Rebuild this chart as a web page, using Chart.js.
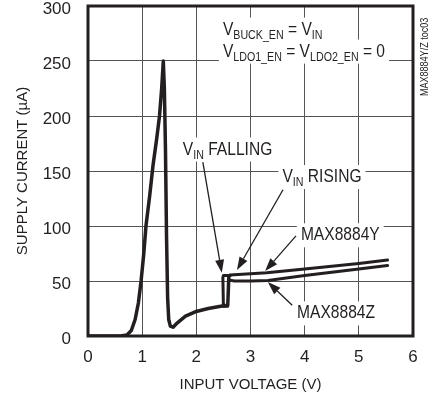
<!DOCTYPE html>
<html>
<head>
<meta charset="utf-8">
<script src="https://cdn.jsdelivr.net/npm/chart.js@4/dist/chart.umd.min.js"></script>
<style>
  html, body { margin: 0; padding: 0; background: #fff; }
  #wrap { width: 432px; height: 400px; }
</style>
</head>
<body>
<div id="wrap"><canvas id="c" width="432" height="400"></canvas></div>
<script>
const FONT = "'Liberation Sans', Arial, sans-serif";
const INK = '#231f20';
const NARROW = 0.82; // squeeze for the condensed face of the original

// axis ticks
const xTicks = [0, 1, 2, 3, 4, 5, 6];
const yTicks = [0, 50, 100, 150, 200, 250, 300];

// shared trace (VIN rising), input voltage (V) vs supply current (uA)
const mainV = [0, 0.6, 0.72, 0.8, 0.87, 0.93, 0.98, 1.03, 1.07, 1.14, 1.2, 1.27, 1.32, 1.36, 1.39, 1.41, 1.43, 1.45, 1.47, 1.49, 1.52, 1.57, 1.65, 1.8, 1.98, 2.22, 2.45, 2.58, 2.6, 2.62];
const mainI = [0, 0, 1, 5, 15, 30, 50, 75, 100, 128, 155, 180, 200, 225, 250, 225, 170, 90, 35, 15, 9, 8, 12, 18, 22, 25, 27, 28, 54, 55];

// VIN falling loop
const fallV = [2.62, 2.5, 2.49, 2.5, 2.58];
const fallI = [55, 55, 53, 27, 27];

// MAX8884Y
const yV = [2.62, 3.0, 3.3, 4.0, 4.5, 5.0, 5.53];
const yI = [55.5, 56.5, 57.5, 61, 63.5, 66, 69];

// MAX8884Z
const zV = [2.6, 2.7, 3.0, 3.32, 4.0, 4.5, 5.0, 5.53];
const zI = [51, 50, 50, 50.5, 55, 58, 61, 64];

// text labels: [x V, y uA, parts]
const labels = [
  { x: 2.49, y: 274, parts: [['V'], ['BUCK_EN', 1], [' = V'], ['IN', 1]] },
  { x: 2.49, y: 254, parts: [['V'], ['LDO1_EN', 1], [' = V'], ['LDO2_EN', 1], [' = 0']] },
  { x: 1.75, y: 165, parts: [['V'], ['IN', 1], [' FALLING']] },
  { x: 3.59, y: 140, parts: [['V'], ['IN', 1], [' RISING']] },
  { x: 3.93, y: 87, parts: [['MAX8884Y']] },
  { x: 3.86, y: 16, parts: [['MAX8884Z']] }
];

// arrows: from [V, uA] to [V, uA]
const arrows = [
  [[2.12, 158], [2.47, 57.5]],
  [[3.6, 133], [2.75, 60]],
  [[3.84, 91], [3.27, 59]],
  [[3.77, 28], [3.32, 49]]
];

const pts = (vs, is) => vs.map((v, i) => ({ x: v, y: is[i] }));

function drawParts(ctx, parts, x, y, measureOnly) {
  ctx.save();
  ctx.translate(x, y);
  ctx.scale(NARROW, 1);
  let cx = 0;
  parts.forEach(p => {
    ctx.font = (p[1] ? '13px ' : '19px ') + FONT;
    if (!measureOnly) ctx.fillText(p[0], cx, p[1] ? 4 : 0);
    cx += ctx.measureText(p[0]).width;
  });
  ctx.restore();
  return cx * NARROW;
}

const notes = {
  id: 'notes',
  beforeDatasetsDraw(chart) {
    const ctx = chart.ctx, xs = chart.scales.x, ys = chart.scales.y;
    ctx.save();
    ctx.textBaseline = 'alphabetic';
    labels.forEach(l => {
      const px = xs.getPixelForValue(l.x), py = ys.getPixelForValue(l.y);
      const w = drawParts(ctx, l.parts, px, py, true);
      ctx.fillStyle = '#fff';
      ctx.fillRect(px - 4, py - 17, w + 8, 24);
    });
    ctx.fillStyle = INK;
    labels.forEach(l => {
      drawParts(ctx, l.parts, xs.getPixelForValue(l.x), ys.getPixelForValue(l.y), false);
    });
    ctx.restore();
  },
  afterDatasetsDraw(chart) {
    const ctx = chart.ctx, xs = chart.scales.x, ys = chart.scales.y, a = chart.chartArea;
    ctx.save();
    ctx.strokeStyle = INK;
    ctx.fillStyle = INK;
    arrows.forEach(([f, t]) => {
      const x1 = xs.getPixelForValue(f[0]), y1 = ys.getPixelForValue(f[1]);
      const x2 = xs.getPixelForValue(t[0]), y2 = ys.getPixelForValue(t[1]);
      const ang = Math.atan2(y2 - y1, x2 - x1);
      const len = 13, half = 4.5;
      const bx = x2 - len * Math.cos(ang), by = y2 - len * Math.sin(ang);
      ctx.lineWidth = 1.3;
      ctx.beginPath();
      ctx.moveTo(x1, y1);
      ctx.lineTo(bx, by);
      ctx.stroke();
      ctx.beginPath();
      ctx.moveTo(x2, y2);
      ctx.lineTo(bx + half * Math.sin(ang), by - half * Math.cos(ang));
      ctx.lineTo(bx - half * Math.sin(ang), by + half * Math.cos(ang));
      ctx.closePath();
      ctx.fill();
    });
    // frame
    ctx.lineWidth = 3;
    ctx.strokeRect(a.left, a.top, a.right - a.left, a.bottom - a.top);
    // side note
    ctx.translate(chart.width - 7, 96);
    ctx.rotate(-Math.PI / 2);
    ctx.scale(NARROW, 1);
    ctx.font = '11px ' + FONT;
    ctx.textBaseline = 'middle';
    ctx.fillText('MAX8884Y/Z toc03', 0, 0);
    ctx.restore();
  }
};

const line = (data, w) => ({
  data: data,
  showLine: true,
  borderColor: INK,
  backgroundColor: INK,
  borderWidth: w,
  pointRadius: 0,
  tension: 0,
  borderJoinStyle: 'round',
  borderCapStyle: 'round',
  fill: false
});

new Chart(document.getElementById('c'), {
  type: 'scatter',
  data: {
    datasets: [
      line(pts(mainV, mainI), 3.5),
      line(pts(fallV, fallI), 3),
      line(pts(yV, yI), 3),
      line(pts(zV, zI), 3)
    ]
  },
  options: {
    responsive: false,
    animation: false,
    devicePixelRatio: 1,
    layout: { autoPadding: false, padding: { left: 0, right: 19, top: 6, bottom: 0 } },
    plugins: { legend: { display: false }, tooltip: { enabled: false } },
    scales: {
      x: {
        type: 'linear', min: 0, max: 6,
        afterFit: s => { s.height = 64; s.paddingLeft = 0; s.paddingRight = 0; },
        afterBuildTicks: s => { s.ticks = xTicks.map(v => ({ value: v })); },
        ticks: { color: INK, padding: 11, font: { family: FONT, size: 17 } },
        grid: { color: '#555', lineWidth: 1, drawTicks: false },
        border: { display: false },
        title: { display: true, text: 'INPUT VOLTAGE (V)', color: INK, padding: { top: 4, bottom: 6 }, font: { family: FONT, size: 15 } }
      },
      y: {
        type: 'linear', min: 0, max: 300,
        afterFit: s => { s.width = 88; s.paddingTop = 0; s.paddingBottom = 0; },
        afterBuildTicks: s => { s.ticks = yTicks.map(v => ({ value: v })); },
        ticks: { color: INK, padding: 17, labelOffset: 3, font: { family: FONT, size: 17 } },
        grid: { color: '#555', lineWidth: 1, drawTicks: false },
        border: { display: false },
        title: { display: true, text: 'SUPPLY CURRENT (µA)', color: INK, padding: { top: 14, bottom: 0 }, font: { family: FONT, size: 15 } }
      }
    }
  },
  plugins: [notes]
});
</script>
</body>
</html>
